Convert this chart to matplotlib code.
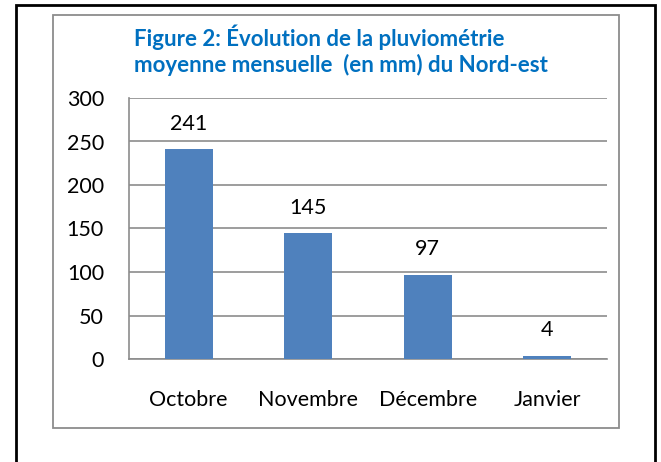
import matplotlib.pyplot as plt
from matplotlib.patches import Rectangle

# data
mois = ['Octobre', 'Novembre', 'Décembre', 'Janvier']
pluie_mm = [241, 145, 97, 4]
y_ticks = [0, 50, 100, 150, 200, 250, 300]

W, H = 661, 462
fig = plt.figure(figsize=(W / 100, H / 100), dpi=100)
plt.rcParams['font.family'] = ['Lato', 'DejaVu Sans']

def px(x0, y0, x1, y1):
    # pixel box (top-left origin) -> figure fraction
    return [x0 / W, 1 - y1 / H, (x1 - x0) / W, (y1 - y0) / H]

# outer black frame and grey chart frame
fig.patches.append(Rectangle((16 / W, -0.05), (655 - 16) / W, 1.05 - 5 / H,
                             transform=fig.transFigure, fill=False,
                             edgecolor='black', linewidth=2))
fig.patches.append(Rectangle((53 / W, 1 - 428 / H), (619 - 53) / W, (428 - 15) / H,
                             transform=fig.transFigure, fill=False,
                             edgecolor='#8c8c8c', linewidth=1.3))

ax = fig.add_axes(px(129, 98, 607, 359))
x = range(len(mois))
ax.bar(x, pluie_mm, width=0.4, color='#4f81bd', zorder=3)
ax.set_xlim(-0.5, len(mois) - 0.5)
ax.set_ylim(0, 300)
ax.set_yticks(y_ticks)
ax.set_xticks(list(x))
ax.set_xticklabels(mois)
ax.tick_params(axis='both', length=0, labelsize=15.5, colors='black')
ax.tick_params(axis='y', pad=18)
ax.tick_params(axis='x', pad=22)
ax.yaxis.grid(True, color='#8c8c8c', linewidth=1.2, zorder=0)
for s in ['top', 'right']:
    ax.spines[s].set_visible(False)
ax.spines['left'].set_color('#8c8c8c')
ax.spines['bottom'].set_color('#8c8c8c')
ax.spines['left'].set_linewidth(1.2)
ax.spines['bottom'].set_linewidth(1.2)

for i, v in enumerate(pluie_mm):
    ax.annotate(str(v), (i, v), xytext=(0, 11), textcoords='offset points',
                ha='center', va='bottom', fontsize=15.5)

fig.text(134 / W, 1 - 50 / H, 'Figure 2: Évolution de la pluviométrie\nmoyenne mensuelle  (en mm) du Nord-est',
         color='#0070c0', fontsize=16, fontweight='bold', ha='left', va='center',
         linespacing=1.2)

plt.savefig('out.png', dpi=100)
